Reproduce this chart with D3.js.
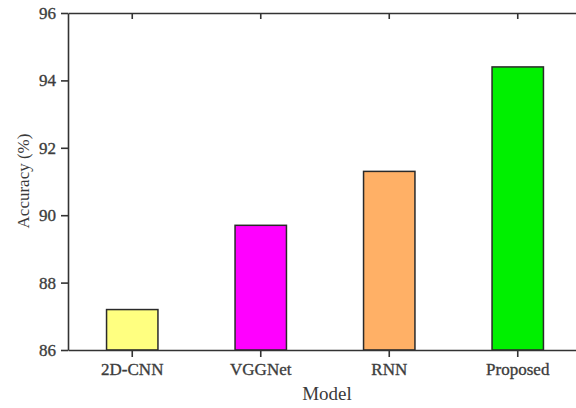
<!DOCTYPE html>
<html>
<head>
<meta charset="utf-8">
<script src="https://cdn.jsdelivr.net/npm/d3@7/dist/d3.min.js"></script>
<style>
  html, body { margin: 0; padding: 0; background: #fff; }
  svg { display: block; }
  text { font-family: "Liberation Serif", "Times New Roman", serif; fill: #3a3a3a; }
</style>
</head>
<body>
<svg id="chart" width="576" height="408"></svg>
<script>
// Model accuracy comparison
const models = ["2D-CNN", "VGGNet", "RNN", "Proposed"];
const accuracy = [87.2, 89.7, 91.3, 94.4];
const barColors = ["#ffff80", "#ff00ff", "#ffb066", "#00f000"];
const yTicks = [86, 88, 90, 92, 94, 96];

const svg = d3.select("#chart");
const margin = { left: 68, top: 13, right: -6, bottom: 58 };
const W = 576, H = 408;
const x0 = margin.left, x1 = W - margin.right;
const y0 = H - margin.bottom, y1 = margin.top;
const axisColor = "#333";

const x = d3.scaleBand().domain(models).range([x0, x1]).paddingInner(0.6).paddingOuter(0.3);
const y = d3.scaleLinear().domain([86, 96]).range([y0, y1]);

// bars
svg.append("g").selectAll("rect").data(models).join("rect")
  .attr("x", d => x(d))
  .attr("width", x.bandwidth())
  .attr("y", (d, i) => y(accuracy[i]))
  .attr("height", (d, i) => y(86) - y(accuracy[i]))
  .attr("fill", (d, i) => barColors[i])
  .attr("stroke", "#2a2a2a")
  .attr("stroke-width", 1.5);

function styleAxis(g) {
  g.selectAll("path, line").attr("stroke", axisColor).attr("stroke-width", 1.6);
  g.selectAll("text").attr("fill", "#444").attr("font-family", "Liberation Serif, serif")
    .attr("stroke", "#444").attr("stroke-width", 0.35);
}

// left axis
svg.append("g").attr("transform", `translate(${x0},0)`)
  .call(d3.axisLeft(y).tickValues(yTicks).tickSize(7).tickSizeOuter(0).tickPadding(5))
  .call(styleAxis)
  .call(g => g.selectAll("text").attr("font-size", 17));

// right axis (mirror, inward ticks)
svg.append("g").attr("transform", `translate(${x1},0)`)
  .call(d3.axisRight(y).tickValues(yTicks).tickSize(-6).tickSizeOuter(0).tickFormat(""))
  .call(styleAxis)
  .call(g => g.selectAll("line").attr("stroke", "#999"));

// bottom axis
svg.append("g").attr("transform", `translate(0,${y0})`)
  .call(d3.axisBottom(x).tickSize(7).tickSizeOuter(0).tickPadding(6))
  .call(styleAxis)
  .call(g => g.selectAll("text").attr("font-size", 17));

// top axis (mirror, inward ticks)
svg.append("g").attr("transform", `translate(0,${y1})`)
  .call(d3.axisTop(x).tickSize(-6).tickSizeOuter(0).tickFormat(""))
  .call(styleAxis);

// axis titles
svg.append("text")
  .attr("transform", `translate(29,181) rotate(-90)`)
  .attr("text-anchor", "middle")
  .attr("font-size", 17)
  .attr("fill", "#333")
  .text("Accuracy (%)");

svg.append("text")
  .attr("x", 327).attr("y", 400)
  .attr("text-anchor", "middle")
  .attr("font-size", 19)
  .attr("fill", "#333")
  .text("Model");
</script>
</body>
</html>
